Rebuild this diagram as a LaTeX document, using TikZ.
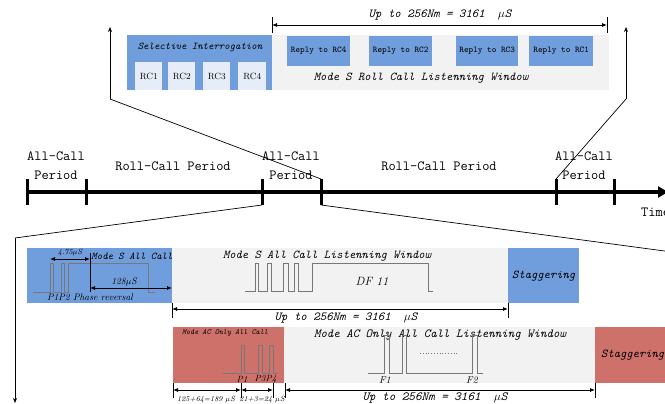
\documentclass[tikz,border=0pt]{standalone}
\usepackage{fontspec}
\usetikzlibrary{arrows.meta}
\definecolor{sblue}{RGB}{112,157,219}
\definecolor{wgray}{RGB}{242,242,242}
\definecolor{rcbox}{RGB}{231,237,248}
\definecolor{sred}{RGB}{205,113,106}
\definecolor{pulsec}{RGB}{120,120,120}
\begin{document}
\begin{tikzpicture}[x=1pt,y=-1pt,
  box/.style={anchor=north west, inner sep=0pt, outer sep=0pt, draw=none},
  tti/.style={inner sep=0pt, font=\ttfamily\itshape\fontsize{#1}{#1}\selectfont},
  ttu/.style={inner sep=0pt, font=\ttfamily\fontsize{#1}{#1}\selectfont},
  rmi/.style={inner sep=0pt, font=\rmfamily\itshape\fontsize{#1}{#1}\selectfont},
  rmu/.style={inner sep=0pt, font=\rmfamily\fontsize{#1}{#1}\selectfont},
  dimline/.style={line width=0.8pt, {Latex[length=5pt,width=4pt]}-{Latex[length=5pt,width=4pt]}},
  tickline/.style={line width=0.8pt},
  pulseline/.style={draw=pulsec, line width=1pt},
  zoomline/.style={line width=0.7pt},
  ztip/.style={line width=0.7pt, -{Stealth[length=5pt,width=4pt]}},
  tl/.style={line width=3.5pt},
  tltick/.style={line width=3pt}
]
\useasboundingbox (0,0) rectangle (665,404);

% ---------------- top box (roll call) ----------------
\node[box, fill=wgray, minimum width=337pt, minimum height=55pt] (rwin) at (272,35) {};
\node[box, fill=sblue, minimum width=145pt, minimum height=55pt] (sel) at (127,35) {};
\node[rmu=9, fill=rcbox, minimum width=27pt, minimum height=28pt, anchor=north west] (rc1) at (135,62) {RC1};
\node[rmu=9, fill=rcbox, minimum width=27pt, minimum height=28pt, anchor=north west] (rc2) at (168,62) {RC2};
\node[rmu=9, fill=rcbox, minimum width=27pt, minimum height=28pt, anchor=north west] (rc3) at (203,62) {RC3};
\node[rmu=9, fill=rcbox, minimum width=28pt, minimum height=28pt, anchor=north west] (rc4) at (238,62) {RC4};
\node[tti=10.3] (seltxt) at (200,47) {Selective Interrogation};
\node[ttu=8.8, fill=sblue, minimum width=63pt, minimum height=30pt, anchor=north west] (r4) at (287,36) {Reply to RC4};
\node[ttu=8.8, fill=sblue, minimum width=63pt, minimum height=30pt, anchor=north west] (r2) at (369,36) {Reply to RC2};
\node[ttu=8.8, fill=sblue, minimum width=62pt, minimum height=30pt, anchor=north west] (r3) at (456,36) {Reply to RC3};
\node[ttu=8.8, fill=sblue, minimum width=64pt, minimum height=30pt, anchor=north west] (r1) at (529,36) {Reply to RC1};
\node[tti=12] (rwintxt) at (421,78) {Mode S Roll Call Listenning Window};

\coordinate (tda) at (272,25);
\coordinate (tdb) at (607,25);
\draw[tickline] (272,17) -- (272,33);
\draw[tickline] (607,17) -- (607,33);
\draw[dimline] (tda) -- (tdb);
\node[tti=12.3] (toplab) at (440,15) {Up to 256Nm = 3161~ $\mu$S};

% ---------------- timeline ----------------
\coordinate (tstart) at (27,192);
\coordinate (tend) at (668,192);
\draw[tl, -{Triangle[length=10pt,width=11pt]}] (tstart) -- (tend);
\foreach \n/\x in {k1/27,k2/86,k3/262,k4/321,k5/556,k6/614}{
  \coordinate (\n t) at (\x,179);
  \coordinate (\n b) at (\x,205);
  \draw[tltick] (\n t) -- (\n b);
}
\node[ttu=14, align=center, font=\ttfamily\fontsize{14}{19}\selectfont] (ac1) at (56,166) {All-Call\\Period};
\node[ttu=14, align=center, font=\ttfamily\fontsize{14}{19}\selectfont] (ac2) at (291,166) {All-Call\\Period};
\node[ttu=14, align=center, font=\ttfamily\fontsize{14}{19}\selectfont] (ac3) at (584,166) {All-Call\\Period};
\node[ttu=14] (rc1p) at (173,166) {Roll-Call Period};
\node[ttu=14] (rc2p) at (439,166) {Roll-Call Period};
\node[ttu=14, anchor=west] (time) at (641,212) {Time};

% zoom connectors top
\coordinate (zl) at (110,99);
\coordinate (zlt) at (110,27);
\coordinate (zr) at (626,99);
\coordinate (zrt) at (626,27);
\draw[ztip] (zl) -- (zlt);
\draw[ztip] (zr) -- (zrt);
\draw[zoomline] (zl) -- (k4t);
\draw[zoomline] (zr) -- (k5t);

% zoom connectors bottom
\coordinate (bl) at (15,238);
\coordinate (blb) at (15,403);
\coordinate (br) at (672,252);
\draw[ztip] (bl) -- (blb);
\draw[zoomline] (bl) -- (k3b);
\draw[zoomline] (k4b) -- (br);

% ---------------- Mode S all call ----------------
\node[box, fill=wgray, minimum width=336pt, minimum height=55pt] (swin) at (172,248) {};
\node[box, fill=sblue, minimum width=145pt, minimum height=55pt] (sac) at (27,248) {};
\node[tti=12, fill=sblue, minimum width=71pt, minimum height=55pt, anchor=north west] (stag1) at (508,248) {Staggering};

\draw[pulseline] (33,292) -| (50,263) -| (53,292) -| (61,263) -| (64,292) -| (68,263) -| (148,292) -- (155,292);
\draw[pulseline] (245,291) -| (255,263) -| (258,291) -| (267,263) -| (271,291) -| (283,263) -| (288,291) -| (294,263) -| (298,291) -| (312,263) -| (428,291) -- (433,291);

\coordinate (d1a) at (50,259);
\coordinate (d1b) at (90,259);
\draw[tickline] (90,253) -- (90,292);
\draw[dimline] (d1a) -- (d1b);
\node[rmi=7.5] (d1t) at (70,253) {4.75$\mu$S};
\coordinate (d2a) at (90,288);
\coordinate (d2b) at (172,288);
\draw[dimline] (d2a) -- (d2b);
\node[rmi=9.5] (d2t) at (124,282) {128$\mu$S};
\node[tti=10.3] (sactxt) at (132,256) {Mode S All Call};
\node[rmi=9.5] (phr) at (90,297) {P1P2 Phase reversal};
\node[tti=12] (swintxt) at (327,256) {Mode S All Call Listenning Window};
\node[rmi=12] (df) at (372,281) {DF 11};

\coordinate (d3a) at (172,309);
\coordinate (d3b) at (508,309);
\draw[tickline] (172,303) -- (172,318);
\draw[tickline] (508,303) -- (508,318);
\draw[dimline] (d3a) -- (d3b);
\node[tti=12.3] (midlab) at (346,318) {Up to 256Nm = 3161~ $\mu$S};

% ---------------- Mode AC only all call ----------------
\node[box, fill=wgray, minimum width=311pt, minimum height=56pt] (awin) at (284,327) {};
\node[box, fill=sred, minimum width=111pt, minimum height=56pt] (aac) at (173,327) {};
\node[tti=12, fill=sred, minimum width=80pt, minimum height=56pt, anchor=north west, text width=74pt, align=left] (stag2) at (595,327) {\hspace*{3pt}Staggering};
\node[tti=7.8] (aactxt) at (225,333) {Mode AC Only All Call};
\node[tti=12.3] (awintxt) at (440,335) {Mode AC Only All Call Listenning Window};

\draw[pulseline] (223,373) -| (241,345) -| (244,373) -| (258,345) -| (262,373) -| (269,345) -| (273,373) -- (278,373);
\node[rmi=9] (p1) at (242,379) {P1};
\node[rmi=9] (p3) at (260,379) {P3};
\node[rmi=9] (p4) at (271,379) {P4};

\draw[pulseline] (368,373) -| (384,335) -| (389,373) -| (402,335) -| (406,373) -| (472,335) -| (477,373) -- (483,373);
\draw[draw=pulsec, dotted, line width=0.8pt] (420,353) -- (458,353);
\node[rmi=10] (f1) at (385,380) {F1};
\node[rmi=10] (f2) at (472,380) {F2};

\coordinate (e1) at (173,390);
\coordinate (e2) at (241,390);
\coordinate (e3) at (273,390);
\coordinate (e4) at (285,390);
\coordinate (e5) at (595,390);
\foreach \x in {173,241,273,285,595}{ \draw[tickline] (\x,383) -- (\x,398); }
\draw[dimline] (e1) -- (e2);
\draw[dimline] (e2) -- (e3);
\draw[dimline] (e4) -- (e5);
\node[rmi=7.5] (e12t) at (206,400) {125+64=189 $\mu$S};
\node[rmi=7.5] (e23t) at (262,400) {21+3=24 $\mu$S};
\node[tti=12.5] (botlab) at (435,398) {Up to 256Nm = 3161~ $\mu$S};
\end{tikzpicture}
\end{document}
